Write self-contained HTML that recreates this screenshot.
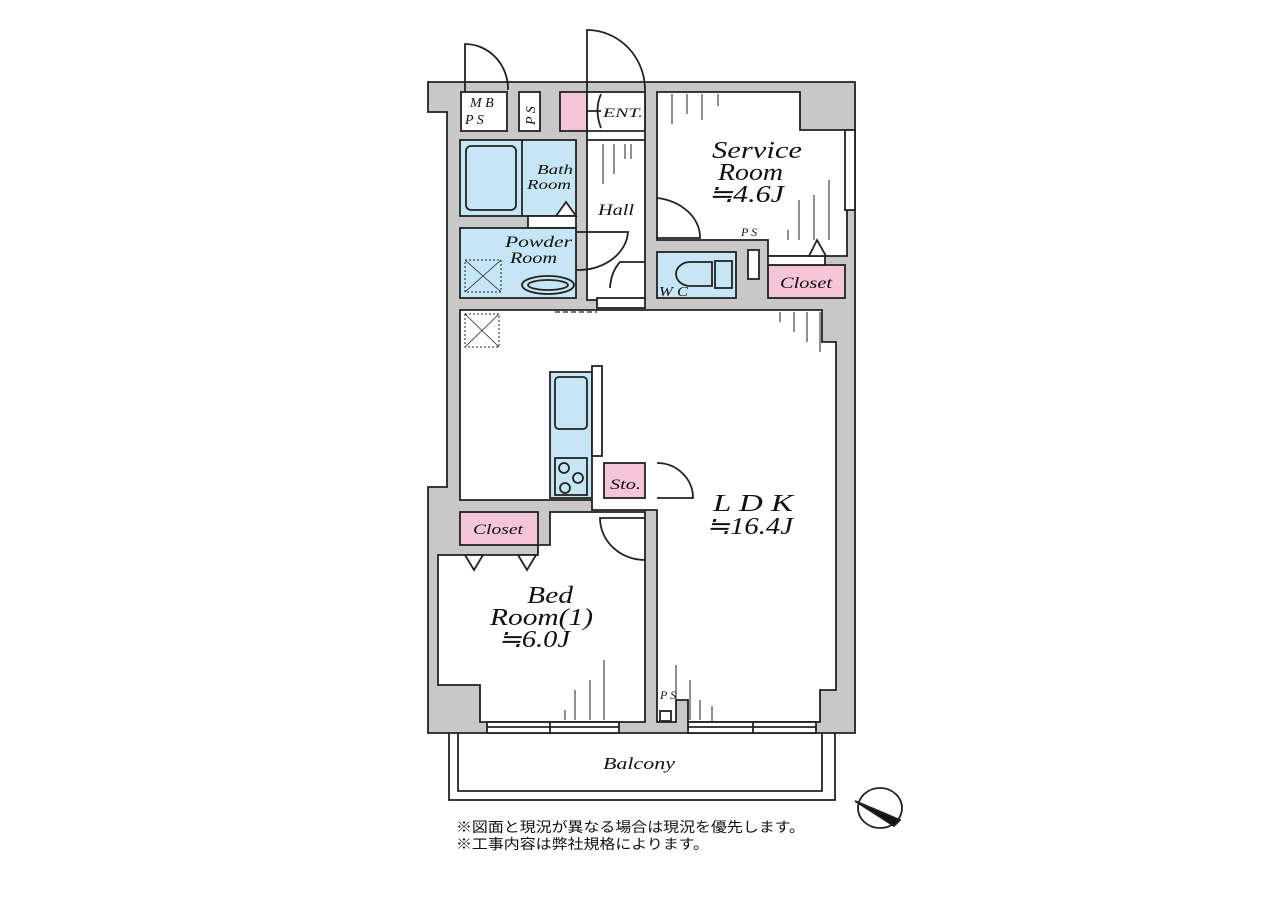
<!DOCTYPE html>
<html><head><meta charset="utf-8"><style>
body{margin:0;background:#fff;}
svg{display:block}
text{font-family:"Liberation Serif",serif;font-style:italic;fill:#111}
.jp{font-family:"Liberation Sans","Noto Sans CJK JP",sans-serif;font-style:normal;font-size:14px}
</style></head><body>
<svg width="1280" height="903" viewBox="0 0 1280 903" xmlns="http://www.w3.org/2000/svg">
<g stroke="#222" stroke-width="1.8">
<polygon points="428,82 855,82 855,733 428,733 428,487 447,487 447,112 428,112" fill="#c8c8c8"/>
<path d="M465,92 L465,44 A43,45 0 0 1 508,90" fill="none"/>
<path d="M587,130 L587,30 A58,60 0 0 1 645,88 L645,130" fill="none"/>
<rect x="461" y="92" width="46" height="39" fill="#fff"/>
<rect x="519" y="92" width="21" height="39" fill="#fff"/>
<rect x="560" y="92" width="27" height="39" fill="#f4c6d8"/>
<rect x="587" y="92" width="58" height="208" fill="#fff"/>
<line x1="587" y1="131" x2="645" y2="131"/><line x1="587" y1="140" x2="645" y2="140"/>
<path d="M601,94 Q594,110 601,128 M601,111 L587,111" fill="none"/>
<polygon points="657,92 800,92 800,130 847,130 847,256 768,256 768,240 657,240" fill="#fff"/>
<rect x="845" y="130" width="10" height="80" fill="#fff"/>
<rect x="460" y="140" width="116" height="76" fill="#c6e6f5"/>
<line x1="522" y1="140" x2="522" y2="216"/>
<rect x="466" y="146" width="50" height="64" rx="5" fill="none"/>
<polygon points="556,216 566,202 576,216" fill="#fff"/>
<rect x="528" y="216" width="48" height="12" fill="#fff"/>
<rect x="460" y="228" width="116" height="70" fill="#c6e6f5"/>
<rect x="465" y="260" width="36" height="32" fill="none" stroke-dasharray="2,2" stroke-width="1"/>
<path d="M465,260 L501,292 M501,260 L465,292" fill="none" stroke-width="0.8"/>
<ellipse cx="548" cy="285" rx="26" ry="9" fill="none"/><ellipse cx="548" cy="285" rx="20" ry="5" fill="none"/>
<path d="M577,232 L628,232 A50,40 0 0 1 577,270" fill="none"/>
<path d="M645,262 L620,262 A30,38 0 0 0 610,288" fill="none"/>
<path d="M657,198 A50,40 0 0 1 700,238 L657,238" fill="none"/>
<rect x="657" y="252" width="79" height="46" fill="#c6e6f5"/>
<path d="M712,262 L690,262 A14,12 0 0 0 690,286 L712,286 Z" fill="none"/>
<rect x="715" y="261" width="17" height="27" fill="none"/>
<rect x="748" y="250" width="11" height="29" fill="#fff"/>
<rect x="768" y="265" width="77" height="33" fill="#f4c6d8"/>
<rect x="768" y="256" width="57" height="9" fill="#fff"/>
<polygon points="809,256 817,240 826,256" fill="#fff"/>
<rect x="597" y="298" width="48" height="10" fill="#fff"/>
<polygon points="460,310 822,310 822,342 836,342 836,690 820,690 820,722 688,722 688,700 676,700 676,722 657,722 657,510 592,510 592,500 460,500" fill="#fff"/>
<line x1="555" y1="312" x2="597" y2="312" stroke-dasharray="5,3" stroke-width="1.2"/>
<rect x="465" y="314" width="34" height="33" fill="none" stroke-dasharray="2,2" stroke-width="1"/>
<path d="M465,314 L499,347 M499,314 L465,347" fill="none" stroke-width="0.8"/>
<rect x="550" y="372" width="42" height="126" fill="#c6e6f5"/>
<rect x="555" y="377" width="32" height="52" rx="4" fill="none"/>
<rect x="555" y="458" width="32" height="37" fill="none"/>
<circle cx="564" cy="468" r="5" fill="none"/><circle cx="578" cy="478" r="5" fill="none"/><circle cx="565" cy="488" r="5" fill="none"/>
<rect x="592" y="366" width="10" height="90" fill="#fff"/>
<rect x="604" y="463" width="41" height="35" fill="#f4c6d8"/>
<path d="M657,463 A36,35 0 0 1 693,498 L657,498" fill="none"/>
<rect x="460" y="512" width="78" height="33" fill="#f4c6d8"/>
<polygon points="438,555 538,555 538,545 550,545 550,512 645,512 645,722 480,722 480,685 438,685" fill="#fff"/>
<path d="M645,518 L600,518 A45,42 0 0 0 645,560" fill="none"/>
<polygon points="465,555 474,570 483,555" fill="#fff"/><polygon points="518,555 527,570 536,555" fill="#fff"/>
<rect x="660" y="711" width="11" height="10" fill="#fff"/>
<rect x="487" y="722" width="132" height="11" fill="#fff"/>
<line x1="487" y1="727" x2="619" y2="727"/><line x1="550" y1="722" x2="550" y2="733"/>
<rect x="688" y="722" width="128" height="11" fill="#fff"/>
<line x1="688" y1="727" x2="816" y2="727"/><line x1="753" y1="722" x2="753" y2="733"/>
<path d="M449,733 L449,800 L835,800 L835,733 M458,733 L458,791 L822,791 L822,733" fill="none"/>
<ellipse cx="880" cy="808" rx="22" ry="20" fill="none"/>
<polygon points="855,801 900,820 894,826" fill="#111"/>
</g>
<g stroke="#222" stroke-width="1">
<path d="M672,94v30M687,94v20M702,94v26M718,94v12M829,180v60M814,195v45M799,200v40M788,230v10M614,144v30M625,144v15M631,144v15M603,144v40M780,312v10M794,312v20M807,312v30M820,312v40M604,660v60M590,680v40M575,690v30M565,710v10M676,665v45M690,680v40M700,700v20M712,706v15"/>
</g>
<text x="470" y="107" font-size="14">M B</text><text x="465" y="124" font-size="14">P S</text>
<text x="535" y="125" font-size="14" transform="rotate(-90 535 125)">P S</text>
<text x="603" y="117" font-size="13" textLength="40" lengthAdjust="spacingAndGlyphs">ENT.</text>
<text x="712" y="158" font-size="24" textLength="90" lengthAdjust="spacingAndGlyphs">Service</text>
<text x="718" y="180" font-size="24" textLength="65" lengthAdjust="spacingAndGlyphs">Room</text>
<text x="708" y="202" font-size="24" textLength="76" lengthAdjust="spacingAndGlyphs">≒4.6J</text>
<text x="537" y="174" font-size="14" textLength="36" lengthAdjust="spacingAndGlyphs">Bath</text>
<text x="527" y="189" font-size="14" textLength="44" lengthAdjust="spacingAndGlyphs">Room</text>
<text x="598" y="215" font-size="16" textLength="36" lengthAdjust="spacingAndGlyphs">Hall</text>
<text x="505" y="247" font-size="16" textLength="67" lengthAdjust="spacingAndGlyphs">Powder</text>
<text x="510" y="263" font-size="16" textLength="47" lengthAdjust="spacingAndGlyphs">Room</text>
<text x="741" y="236" font-size="12">P S</text>
<text x="659" y="296" font-size="14" textLength="29" lengthAdjust="spacingAndGlyphs">W C</text>
<text x="780" y="288" font-size="16" textLength="52" lengthAdjust="spacingAndGlyphs">Closet</text>
<text x="610" y="489" font-size="15" textLength="31" lengthAdjust="spacingAndGlyphs">Sto.</text>
<text x="713" y="511" font-size="24" textLength="80" lengthAdjust="spacingAndGlyphs">L D K</text>
<text x="706" y="534" font-size="24" textLength="87" lengthAdjust="spacingAndGlyphs">≒16.4J</text>
<text x="473" y="534" font-size="15" textLength="50" lengthAdjust="spacingAndGlyphs">Closet</text>
<text x="527" y="603" font-size="24" textLength="46" lengthAdjust="spacingAndGlyphs">Bed</text>
<text x="490" y="625" font-size="24" textLength="103" lengthAdjust="spacingAndGlyphs">Room(1)</text>
<text x="498" y="647" font-size="24" textLength="72" lengthAdjust="spacingAndGlyphs">≒6.0J</text>
<text x="660" y="699" font-size="12">P S</text>
<text x="603" y="769" font-size="17" textLength="72" lengthAdjust="spacingAndGlyphs">Balcony</text>
<text class="jp" x="456" y="832" textLength="349" lengthAdjust="spacingAndGlyphs">※図面と現況が異なる場合は現況を優先します。</text>
<text class="jp" x="456" y="849" textLength="253" lengthAdjust="spacingAndGlyphs">※工事内容は弊社規格によります。</text>
</svg>
</body></html>
